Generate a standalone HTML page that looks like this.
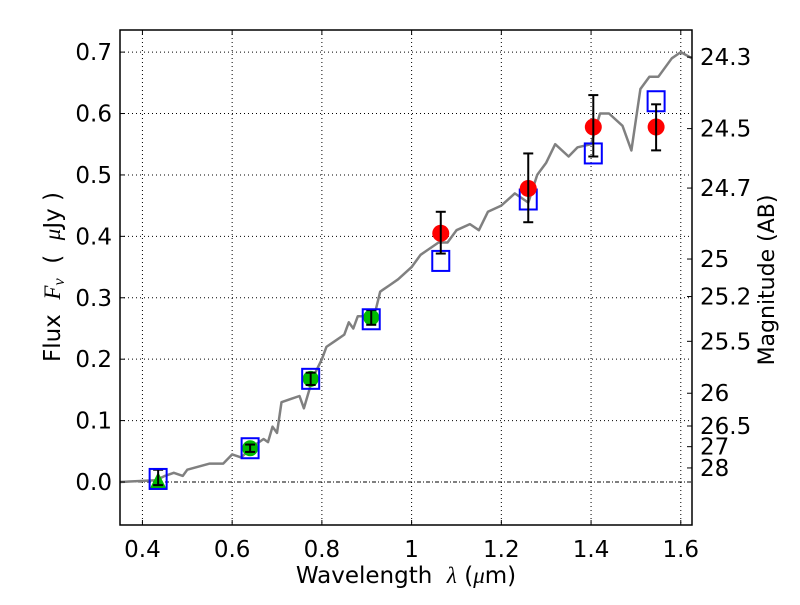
<!DOCTYPE html>
<html><head><meta charset="utf-8"><style>
body{margin:0;background:#fff}
svg text{font-family:"DejaVu Sans","Liberation Sans",sans-serif;fill:#000;white-space:pre}
</style></head><body>
<svg id="chart" width="800" height="600" xmlns="http://www.w3.org/2000/svg" xml:space="preserve">
<g id="grid"></g>
<g id="plot"></g>
<g id="axes"></g>
<text x="406" y="583" font-size="23" text-anchor="middle">Wavelength  <tspan font-style="italic" font-family="Liberation Serif,serif">λ</tspan> (<tspan font-style="italic" font-family="Liberation Serif,serif">μ</tspan>m)</text>
<text transform="translate(60,277) rotate(-90)" font-size="23" text-anchor="middle">Flux  <tspan font-style="italic" font-family="Liberation Serif,serif">F<tspan font-size="16" dy="4">ν</tspan></tspan><tspan dy="-4">  (  </tspan><tspan font-style="italic" font-family="Liberation Serif,serif">μ</tspan>Jy )</text>
<text transform="translate(774,280) rotate(-90)" font-size="22" text-anchor="middle">Magnitude (AB)</text>
</svg>
<script>
const xTicks=[0.4,0.6,0.8,1.0,1.2,1.4,1.6];
const xTickLabels=["0.4","0.6","0.8","1","1.2","1.4","1.6"];
const yTicks=[0,0.1,0.2,0.3,0.4,0.5,0.6,0.7];
const yTickLabels=["0.0","0.1","0.2","0.3","0.4","0.5","0.6","0.7"];
const magTicks=[24.3,24.5,24.7,25,25.2,25.5,26,26.5,27,28];
const magLabels=["24.3","24.5","24.7","25","25.2","25.5","26","26.5","27","28"];
const specX=[0.35,0.43,0.45,0.47,0.49,0.5,0.55,0.58,0.6,0.62,0.65,0.67,0.68,0.69,0.70,0.71,0.73,0.75,0.76,0.78,0.80,0.81,0.83,0.85,0.86,0.87,0.88,0.90,0.92,0.93,0.95,0.97,1.0,1.02,1.04,1.06,1.08,1.10,1.13,1.15,1.17,1.20,1.23,1.25,1.26,1.28,1.30,1.32,1.35,1.37,1.40,1.42,1.44,1.47,1.49,1.51,1.53,1.55,1.58,1.60,1.625];
const specY=[0.0,0.003,0.01,0.015,0.01,0.02,0.03,0.03,0.045,0.04,0.06,0.07,0.065,0.09,0.08,0.13,0.135,0.14,0.12,0.17,0.2,0.22,0.23,0.24,0.26,0.25,0.27,0.27,0.28,0.31,0.32,0.33,0.35,0.37,0.38,0.39,0.39,0.41,0.42,0.41,0.44,0.45,0.47,0.46,0.455,0.5,0.52,0.55,0.53,0.545,0.55,0.6,0.6,0.58,0.54,0.64,0.66,0.66,0.69,0.70,0.69];
const modelX=[0.435,0.64,0.775,0.91,1.065,1.26,1.405,1.545];
const modelY=[0.005,0.055,0.168,0.265,0.36,0.46,0.535,0.62];
const greenX=[0.64,0.775,0.91];
const greenY=[0.055,0.168,0.268];
const greenErr=[0.006,0.01,0.012];
const triX=[0.435];
const triY=[0.0];
const triLo=[-0.005];
const triHi=[0.02];
const redX=[1.065,1.26,1.405,1.545];
const redY=[0.405,0.478,0.578,0.578];
const redLo=[0.372,0.423,0.53,0.54];
const redHi=[0.44,0.535,0.63,0.615];

const L=120,R=692,T=30,B=525,xmin=0.35,xmax=1.625,ymin=-0.07,ymax=0.736;
const sx=v=>L+(v-xmin)/(xmax-xmin)*(R-L);
const sy=v=>B-(v-ymin)/(ymax-ymin)*(B-T);
const NS="http://www.w3.org/2000/svg";
function mk(tag,attrs,parent){const e=document.createElementNS(NS,tag);for(const k in attrs)e.setAttribute(k,attrs[k]);parent.appendChild(e);return e;}
const grid=document.getElementById('grid'),plot=document.getElementById('plot'),axes=document.getElementById('axes');

xTicks.forEach((t,i)=>{
  const g=mk('line',{x1:sx(t),x2:sx(t),y1:T,y2:B,stroke:'#000','stroke-width':1,'stroke-dasharray':'1,3'},grid);
  
  
  const a=mk('line',{x1:sx(t),x2:sx(t),y1:B,y2:B-5,stroke:'#000'},axes);
  
  
  const b=mk('line',{x1:sx(t),x2:sx(t),y1:T,y2:T+5,stroke:'#000'},axes);
  
  
  const tx=mk('text',{x:sx(t),y:B+32,'font-size':23,'text-anchor':'middle'},axes);
  tx.textContent=xTickLabels[i];
  
  
});
yTicks.forEach((t,i)=>{
  const g=mk('line',{x1:L,x2:R,y1:sy(t),y2:sy(t),stroke:'#000','stroke-width':1,'stroke-dasharray':t===0?'4,2,1,2':'1,3'},grid);
  
  
  const a=mk('line',{x1:L,x2:L+5,y1:sy(t),y2:sy(t),stroke:'#000'},axes);
  
  
  const tx=mk('text',{x:L-8,y:sy(t)+8,'font-size':23,'text-anchor':'end'},axes);
  tx.textContent=yTickLabels[i];
  
  
});
magTicks.forEach((m,i)=>{
  const f=Math.pow(10,(23.9-m)/2.5);
  const a=mk('line',{x1:R,x2:R-5,y1:sy(f),y2:sy(f),stroke:'#000'},axes);
  
  
  const tx=mk('text',{x:R+8,y:sy(f)+8,'font-size':23},axes);
  tx.textContent=magLabels[i];
  
  
});
const fr=mk('rect',{x:L,y:T,width:R-L,height:B-T,fill:'none',stroke:'#000','stroke-width':1.5},axes);



const pts=specX.map((x,i)=>sx(x).toFixed(1)+','+sy(specY[i]).toFixed(1)).join(' ');
const sp=mk('polyline',{points:pts,fill:'none',stroke:'#808080','stroke-width':2.5,'stroke-linejoin':'round'},plot);



function ebar(x,lo,hi,w){
  const g=mk('g',{},plot);
  
  
  mk('line',{x1:sx(x),x2:sx(x),y1:sy(lo),y2:sy(hi),stroke:'#000','stroke-width':2},g);
  mk('line',{x1:sx(x)-w,x2:sx(x)+w,y1:sy(lo),y2:sy(lo),stroke:'#000','stroke-width':2},g);
  mk('line',{x1:sx(x)-w,x2:sx(x)+w,y1:sy(hi),y2:sy(hi),stroke:'#000','stroke-width':2},g);
}
triX.forEach((x,i)=>{
  const cx=sx(x),cy=sy(triY[i]);
  const p=mk('polygon',{points:`${cx},${cy-10} ${cx-9},${cy+8} ${cx+9},${cy+8}`,fill:'#00bb00'},plot);
  
  
  ebar(x,triLo[i],triHi[i],5);
});
greenX.forEach((x,i)=>{
  const c=mk('circle',{cx:sx(x),cy:sy(greenY[i]),r:8,fill:'#00bb00'},plot);
  
  
  ebar(x,greenY[i]-greenErr[i],greenY[i]+greenErr[i],5);
});
modelX.forEach((x,i)=>{
  const r=mk('rect',{x:sx(x)-8.5,y:sy(modelY[i])-10,width:17,height:20,fill:'none',stroke:'#0000ff','stroke-width':2},plot);
  
  
});
redX.forEach((x,i)=>{
  const c=mk('circle',{cx:sx(x),cy:sy(redY[i]),r:8.5,fill:'#ff0000'},plot);
  
  
  ebar(x,redLo[i],redHi[i],5);
});
</script>
</body></html>
